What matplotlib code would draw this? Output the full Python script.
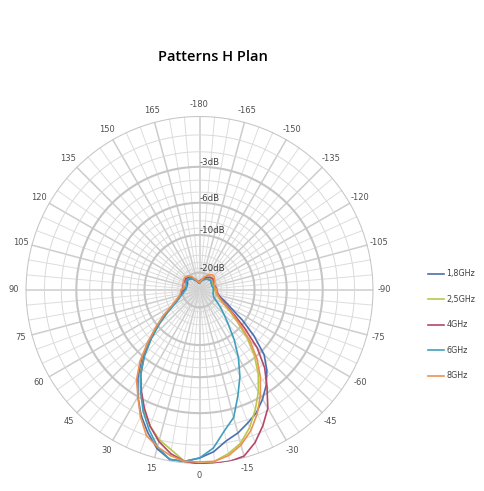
import matplotlib
matplotlib.use("Agg")
import matplotlib.pyplot as plt
import numpy as np

# angles in degrees (0 = bottom, positive to the left / clockwise on screen)
angles = [-180, -170, -160, -150, -140, -130, -120, -110, -100,
          -90, -85, -80, -75, -70, -65, -60, -55, -50, -45, -40, -35, -30, -25, -20, -15, -10, -5,
          0, 5, 10, 15, 20, 25, 30, 35, 40, 45, 50, 55, 60, 65, 70, 75, 80, 85, 90,
          100, 110, 120, 130, 140, 150, 160, 170, 180]

g_1g8 = [-28, -26, -24, -22.5, -22, -21.5, -22, -22.5, -21.5,
         -21, -20.5, -20, -19, -17.5, -15.5, -13.5, -10.5, -7.8, -5.6, -4.4, -3.5, -2.8, -2.2, -1.8, -1.4, -1.1, -0.6,
         -0.3, -0.1, -0.1, -0.5, -1.2, -2.0, -3.0, -4.2, -5.8, -7.8, -10.0, -12.5, -15.0, -16.8, -18.0, -19.2, -20.0, -20.5, -21.0,
         -22, -22.5, -22, -21, -21.5, -23, -25, -27, -28]
g_2g5 = [-27, -25, -23, -22, -21.5, -21, -21.5, -22, -21,
         -21, -20.8, -20.5, -19.8, -19, -17.8, -16, -13.5, -11, -8.3, -6.2, -4.6, -3.4, -2.4, -1.5, -0.8, -0.4, -0.1,
         0, -0.1, -0.6, -1.0, -1.6, -2.4, -3.4, -4.5, -6.0, -8.0, -10.3, -12.7, -15.0, -16.8, -18.0, -19.0, -19.5, -19.8, -20.0,
         -21, -21.5, -21, -20.5, -21, -22.5, -24, -26, -27]
g_4g = [-26, -24.5, -23, -21.5, -20.5, -20, -20.5, -21, -20.5,
        -20, -19.8, -19.5, -18.8, -18, -16.8, -15, -12.5, -9.5, -6.6, -4.7, -3.4, -2.1, -1.3, -0.6, -0.1, 0, 0,
        0, -0.1, -0.4, -0.9, -1.6, -2.5, -3.5, -4.6, -6.1, -8.1, -10.3, -12.8, -15.0, -16.7, -18.0, -19.0, -19.5, -19.8, -20.0,
        -20.5, -20, -20, -19.8, -20.5, -22, -24, -26, -27]
g_6g = [-27, -25.5, -24, -23, -22, -21.5, -22, -22.5, -22,
        -22, -22, -22, -21.8, -21.5, -21, -20, -18, -16, -14, -11.8, -9.2, -7.0, -5.2, -3.8, -2.4, -1.7, -0.8,
        -0.3, -0.1, -0.1, -0.6, -1.4, -2.3, -3.4, -4.6, -6.2, -8.2, -10.5, -13.0, -15.5, -17.2, -18.5, -19.6, -20.5, -21.2, -22.0,
        -22.5, -22, -21, -20.5, -21, -22.5, -24.5, -26.5, -27]
g_8g = [-27, -25, -22, -20, -18.8, -19, -20, -21, -21,
        -20, -20, -20, -19.3, -18.5, -17.2, -15.5, -13, -10.5, -7.8, -5.8, -4.3, -3.1, -2.1, -1.3, -0.7, -0.3, -0.1,
        -0.1, -0.1, -0.3, -0.6, -1.0, -1.9, -3.0, -4.0, -5.5, -7.6, -9.8, -12.0, -14.5, -16.2, -17.5, -18.5, -19.0, -19.3, -19.5,
        -21, -20, -19.5, -19, -19.5, -21, -24, -26, -27]

series = ["1,8GHz", "2,5GHz", "4GHz", "6GHz", "8GHz"]
gains = [g_1g8, g_2g5, g_4g, g_6g, g_8g]
colors = ["#4a6fb0", "#b9c84a", "#b4476a", "#3f9fbd", "#ec9252"]

ring_major = [0, -3, -6, -10, -20]
ring_minor = [-1, -2, -4, -5, -7, -8, -9, -12, -14, -16, -18]
ring_labels = ["-3dB", "-6dB", "-10dB", "-20dB"]


def db2r(db):
    return 10 ** (np.asarray(db, dtype=float) / 20.0)


fig = plt.figure(figsize=(4.85, 4.91), dpi=100)
ax = fig.add_axes([0.0526, 0.055, 0.7175, 0.7088], projection="polar")
ax.set_theta_zero_location("S")
ax.set_theta_direction(-1)
ax.set_ylim(0, 1)
ax.grid(False)
ax.set_xticklabels([])
ax.set_yticklabels([])
ax.spines["polar"].set_visible(False)

# grid: spokes
full = np.linspace(0, 2 * np.pi, 721)
for a in range(0, 360, 5):
    t = np.deg2rad(a)
    if a % 15 == 0:
        ax.plot([t, t], [0, 1], color="#cdcdcd", lw=1.1, zorder=1)
    else:
        ax.plot([t, t], [0, 1], color="#dddddd", lw=0.7, zorder=1)

# grid: rings
for d in ring_minor:
    ax.plot(full, np.full_like(full, db2r(d)), color="#dadada", lw=0.7, zorder=1)
for d in ring_major:
    ax.plot(full, np.full_like(full, db2r(d)), color="#c6c6c6", lw=1.5, zorder=1)

# ring labels along the top spoke
for d, lab in zip(ring_major[1:], ring_labels):
    ax.text(np.pi, db2r(d), lab, ha="left", va="bottom", fontsize=6.2,
            color="#404040", family="DejaVu Sans", zorder=3)

# angle labels
for a in range(-180, 180, 15):
    ax.text(np.deg2rad(a), 1.065, str(a), ha="center", va="center",
            fontsize=6.0, color="#505050", family="DejaVu Sans")

th = np.deg2rad(angles)
for name, g, c in zip(series, gains, colors):
    ax.plot(th, db2r(g), color=c, lw=1.2, label=name, zorder=4)

fig.text(0.44, 0.883, "Patterns H Plan", ha="center", va="center",
         fontsize=10.5, fontweight="semibold", family="Open Sans")

leg = fig.legend(loc="upper left", bbox_to_anchor=(0.868, 0.466), frameon=False,
                 fontsize=5.8, labelspacing=2.05, handlelength=2.0, handletextpad=0.25)
for t in leg.get_texts():
    t.set_color("#404040")

fig.savefig("out.png", dpi=100)
